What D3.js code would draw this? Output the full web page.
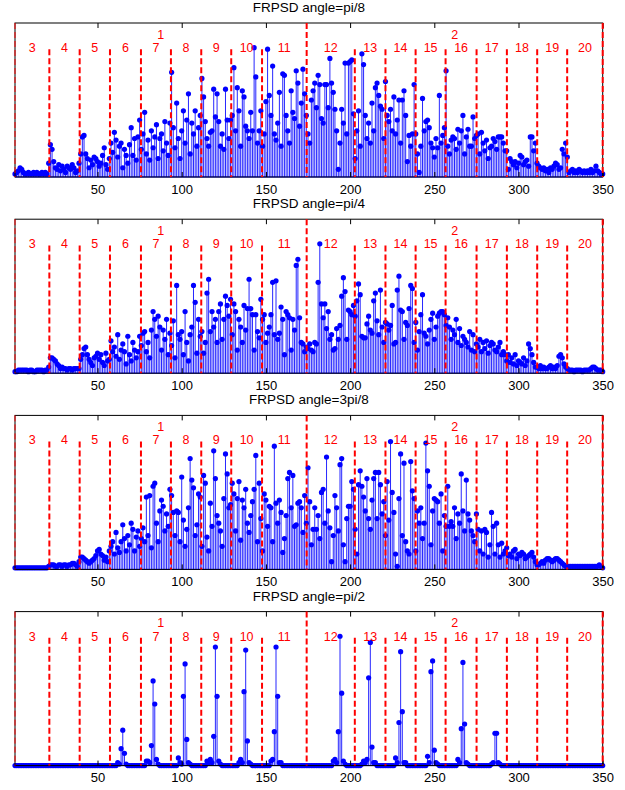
<!DOCTYPE html>
<html lang="en">
<head>
<meta charset="utf-8">
<title>FRPSD</title>
<script src="https://cdn.jsdelivr.net/npm/d3@7"></script>
<style>
  body { margin: 0; background: #fff; }
  text { font-family: "Liberation Sans", Arial, Helvetica, sans-serif; }
</style>
</head>
<body>
<script>
// titles of the 4 subplots
var titles = ["FRPSD angle=pi/8", "FRPSD angle=pi/4", "FRPSD angle=3pi/8", "FRPSD angle=pi/2"];

// values, in % of axis height, index 1..350
var psdPi8 = [
  2,3,4,6,5,3,2,2,3,2, 2,3,2,3,2,2,3,2,3,2, 9,21,18,10,6,5,8,4,7,5, 3,7,6,5,8,6,3,4,9,15,
  26,27,15,12,6,11,8,13,12,10, 7,9,14,19,8,5,12,22,16,29, 24,13,20,22,6,18,14,9,21,32,
  14,25,11,26,37,18,28,42,15,24, 11,30,19,26,34,12,25,28,17,36, 22,14,35,68,32,19,48,25,12,30,
  43,22,37,54,15,35,28,43,20,32, 40,64,52,36,25,20,29,30,57,39, 54,36,20,28,18,57,37,25,37,40,
  71,30,58,43,20,56,52,33,30,25, 42,30,84,65,22,30,43,20,28,49, 83,53,40,72,28,24,35,55,20,67,
  66,40,30,22,56,42,38,69,61,33, 48,70,54,40,28,22,50,56,61,45, 66,60,38,35,60,60,45,77,61,55,
  44,30,5,22,44,35,74,28,74,75, 76,41,12,30,43,20,80,73,40,25, 35,22,48,30,58,61,53,46,44,25,
  62,40,36,44,30,52,28,37,50,22, 50,56,40,10,27,20,28,60,28,15, 3,20,51,30,36,37,32,22,19,13,
  25,19,53,22,27,32,69,20,15,24, 26,25,18,31,22,30,40,15,26,31, 20,20,39,25,27,28,15,29,22,17,
  24,12,19,20,25,23,18,26,26,26, 22,17,17,5,12,10,8,10,6,9, 14,13,8,10,11,7,26,26,17,22,
  9,7,6,5,6,4,5,3,6,5, 7,9,8,5,6,18,15,22,13,3, 4,5,3,4,3,5,4,3,4,3,
  4,3,5,3,4,7,4,3,2,2
];
var psdPi4 = [
  1,1,2,2,2,2,2,2,1,2, 2,1,1,2,2,2,2,1,2,2, 4,10,10,9,8,6,5,3,4,3, 3,2,3,3,2,3,3,3,3,9,
  12,16,17,12,9,7,5,10,11,13, 9,12,7,5,13,8,9,21,14,17, 11,25,9,15,19,14,6,24,12,8,
  20,15,10,14,24,18,26,27,14,20, 10,28,40,35,24,37,30,15,28,22, 35,12,26,18,34,10,57,25,22,27,
  12,40,20,8,25,30,57,46,13,35, 24,27,13,20,52,61,27,40,30,35, 20,40,45,22,35,50,44,37,48,25,
  45,40,15,35,30,20,44,28,42,61, 42,38,15,38,27,23,48,35,38,20, 26,30,38,59,25,60,22,26,43,35,
  12,40,38,36,15,35,28,70,74,36, 20,19,14,17,16,19,15,14,20,19, 59,84,45,36,45,29,40,22,25,15,
  16,29,22,31,50,62,53,22,41,40, 38,44,37,47,58,51,24,23,23,32, 37,28,26,47,52,34,25,54,30,20,
  33,32,28,31,44,19,20,54,63,41, 40,22,33,31,42,57,55,20,33,15, 27,38,51,26,24,19,28,35,39,22,
  30,37,39,40,40,38,31,36,30,22, 28,25,35,20,29,18,24,22,20,17, 27,15,25,14,19,17,22,14,20,16,
  21,13,18,20,19,15,14,17,20,12, 14,12,8,12,7,10,6,12,5,8, 7,6,10,5,8,19,16,12,7,4,
  4,3,5,3,4,3,3,4,5,3, 4,3,5,11,12,10,6,4,3,2, 2,2,1,2,2,2,2,1,2,2,
  2,2,3,4,4,3,2,2,2,1
];
var psd3Pi8 = [
  1,1,1,1,1,1,1,1,1,1, 1,1,1,1,1,1,1,1,1,1, 2,3,3,3,2,2,3,3,2,3, 3,2,3,3,4,4,3,2,5,8,
  8,7,6,5,4,5,6,7,9,12, 13,10,9,6,8,5,12,15,18,10, 24,14,11,18,29,20,12,22,16,30,
  26,12,21,25,15,20,27,18,47,22, 48,14,54,56,30,18,38,45,41,25, 36,28,52,48,37,22,38,37,18,60,
  32,15,26,40,72,58,53,22,29,49, 47,15,61,56,21,12,43,28,77,59, 35,30,25,15,46,75,62,40,42,56,
  49,25,46,57,19,45,40,52,30,24, 35,44,52,74,18,56,33,12,49,45, 28,41,40,18,80,43,30,45,37,11,
  20,35,59,63,40,61,28,29,43,44, 40,24,48,30,66,44,16,26,40,26, 35,20,50,52,30,73,38,27,5,22,
  48,40,25,68,72,16,5,33,41,41, 57,52,26,10,55,64,54,47,38,59, 33,26,45,59,63,33,63,55,36,44,
  22,57,32,83,50,37,10,2,46,75, 22,69,18,12,10,70,51,46,12,38, 30,40,20,30,82,64,54,16,38,46,
  45,44,30,49,12,35,28,54,28,31, 28,40,20,36,30,62,38,25,58,36, 32,25,22,18,36,26,12,25,10,26,
  24,8,16,37,28,10,30,16,8,17, 10,12,14,9,10,8,12,13,7,10, 9,11,10,7,8,9,10,11,8,5,
  3,3,4,5,4,6,7,7,6,5, 6,7,7,6,5,4,3,2,2,2, 2,2,2,2,2,2,2,2,2,2,
  2,2,2,2,2,2,2,3,2,1
];
var psdPi2 = [
  0,0,0,0,0,0,0,0,0,0, 0,0,0,0,0,0,0,0,0,0, 0,0,0,0,0,0,0,0,0,0, 0,0,0,0,0,0,0,0,0,0,
  0,0,0,0,0,0,0,0,0,0, 0,0,0,0,0,0,0,0,0,0, 0,2,1,11,23,8,1,0,0,0,
  0,0,0,0,0,0,0,0,3,3, 2,13,55,40,4,1,0,0,0,0, 0,0,0,0,0,0,0,5,2,1,
  45,66,17,2,1,0,0,0,0,0, 0,0,0,0,3,2,4,2,19,77, 45,3,1,0,0,0,0,0,0,0,
  0,0,0,2,4,2,48,75,16,2, 1,0,0,0,0,0,0,0,0,0, 0,0,3,4,22,77,45,2,2,0,
  0,0,0,0,0,0,0,0,0,0, 0,0,0,0,0,0,0,0,0,0, 0,0,0,0,0,0,0,0,0,3,
  4,2,22,84,47,3,1,0,0,0, 0,0,0,0,0,0,1,3,2,4, 57,80,12,2,2,0,0,0,0,0,
  0,0,0,0,0,0,5,2,28,74, 35,2,2,0,0,0,0,0,0,0, 0,0,0,0,0,6,2,61,68,10,
  2,1,0,0,0,0,0,0,0,0, 0,0,0,4,2,24,67,27,2,1, 0,0,0,0,0,0,0,0,0,0,
  0,0,0,1,2,21,21,2,1,0, 0,0,0,0,0,0,0,0,0,0, 0,0,0,0,0,0,0,0,0,0,
  0,0,0,0,0,0,0,0,0,0, 0,0,0,0,0,0,0,0,0,0, 0,0,0,0,0,0,0,0,0,0,
  0,0,0,0,0,0,0,0,0,0
];

// red dashed band boundaries (index units) and their labels
var bandEdges1 = [1, 21.4, 39.4, 57.4, 75.8, 93.6, 111.6, 129.4, 147.7, 174.2];
var bandEdges2 = [174.2, 202.8, 221, 238.9, 256.7, 275.1, 293.1, 311.1, 328.9, 350];
var bandLabels1 = ["3", "4", "5", "6", "7", "8", "9", "10", "11"];
var bandLabels2 = ["12", "13", "14", "15", "16", "17", "18", "19", "20"];
var groupLabels = ["1", "2"];
var xTicks = [50, 100, 150, 200, 250, 300, 350];

var series = [psdPi8, psdPi4, psd3Pi8, psdPi2];

//setup
var width = 625, height = 790;
var plotH = 154;
var tops = [23, 219.2, 415.4, 611.6];
var svg = d3.select("body").append("svg")
    .attr("width", width)
    .attr("height", height);

var x = d3.scaleLinear().domain([1, 350]).range([15, 602.7]);
var y = d3.scaleLinear().domain([0, 100]).range([plotH, 0]);

series.forEach(function(vals, p) {
  var g = svg.append("g").attr("transform", "translate(0," + tops[p] + ")");
  var pts = vals.map(function(v, i) { return {i: i + 1, v: v}; });

  // title
  g.append("text")
    .attr("x", (x(1) + x(350)) / 2)
    .attr("y", -11)
    .attr("text-anchor", "middle")
    .attr("font-size", "13.5px")
    .text(titles[p]);

  // stems
  g.selectAll("line.stem").data(pts).enter().append("line")
    .attr("class", "stem")
    .attr("x1", function(d) { return x(d.i); })
    .attr("x2", function(d) { return x(d.i); })
    .attr("y1", y(0))
    .attr("y2", function(d) { return y(d.v); })
    .attr("stroke", "#0000ff")
    .attr("stroke-opacity", 0.85)
    .attr("stroke-width", 1);

  // baseline
  g.append("line")
    .attr("x1", x(1)).attr("x2", x(350))
    .attr("y1", y(0)).attr("y2", y(0))
    .attr("stroke", "#0000ff").attr("stroke-width", 1);

  // markers
  g.selectAll("circle").data(pts).enter().append("circle")
    .attr("cx", function(d) { return x(d.i); })
    .attr("cy", function(d) { return y(d.v); })
    .attr("r", 2.6)
    .attr("fill", "#0000ff");

  // axes box + inward ticks
  var bottom = d3.axisBottom(x).tickValues(xTicks).tickSizeInner(-5).tickSizeOuter(0).tickPadding(7.5);
  var ax = g.append("g").attr("transform", "translate(0," + plotH + ")").call(bottom);
  ax.select(".domain").remove();
  ax.selectAll("text").attr("font-size", "13px").attr("font-family", "Liberation Sans, Arial, sans-serif").attr("fill", "#000");
  var topAx = g.append("g").call(d3.axisTop(x).tickValues(xTicks).tickSizeInner(-5).tickSizeOuter(0).tickFormat(""));
  topAx.select(".domain").remove();
  g.append("rect")
    .attr("x", x(1)).attr("y", 0)
    .attr("width", x(350) - x(1)).attr("height", plotH)
    .attr("fill", "none").attr("stroke", "#000").attr("stroke-width", 1);

  // short red dashed band lines
  var shortEdges = bandEdges1.slice(1, -1).concat(bandEdges2.slice(1, -1));
  g.selectAll("line.band").data(shortEdges).enter().append("line")
    .attr("class", "band")
    .attr("x1", function(d) { return x(d); })
    .attr("x2", function(d) { return x(d); })
    .attr("y1", y(83)).attr("y2", y(0))
    .attr("stroke", "#ff0000").attr("stroke-width", 2)
    .attr("stroke-dasharray", "6,3");

  // full height group lines
  g.selectAll("line.group").data([1, 174.2, 350]).enter().append("line")
    .attr("class", "group")
    .attr("x1", function(d) { return x(d); })
    .attr("x2", function(d) { return x(d); })
    .attr("y1", y(100)).attr("y2", y(0))
    .attr("stroke", "#ff0000")
    .attr("stroke-width", function(d) { return d === 1 ? 1 : 2; })
    .attr("stroke-dasharray", "6,3");

  // band labels
  var labs = [];
  bandLabels1.forEach(function(t, k) { labs.push({t: t, c: (bandEdges1[k] + bandEdges1[k + 1]) / 2}); });
  bandLabels2.forEach(function(t, k) { labs.push({t: t, c: (bandEdges2[k] + bandEdges2[k + 1]) / 2}); });
  g.selectAll("text.band").data(labs).enter().append("text")
    .attr("class", "band")
    .attr("x", function(d) { return x(d.c); })
    .attr("y", y(84))
    .attr("dy", "0.35em")
    .attr("text-anchor", "middle")
    .attr("font-size", "12.5px")
    .attr("fill", "#ff0000")
    .text(function(d) { return d.t; });

  var gcent = [(1 + 174.2) / 2, (174.2 + 350) / 2];
  g.selectAll("text.group").data(groupLabels).enter().append("text")
    .attr("class", "group")
    .attr("x", function(d, k) { return x(gcent[k]); })
    .attr("y", y(92.7))
    .attr("dy", "0.35em")
    .attr("text-anchor", "middle")
    .attr("font-size", "12.5px")
    .attr("fill", "#ff0000")
    .text(function(d) { return d; });
});
</script>
</body>
</html>
